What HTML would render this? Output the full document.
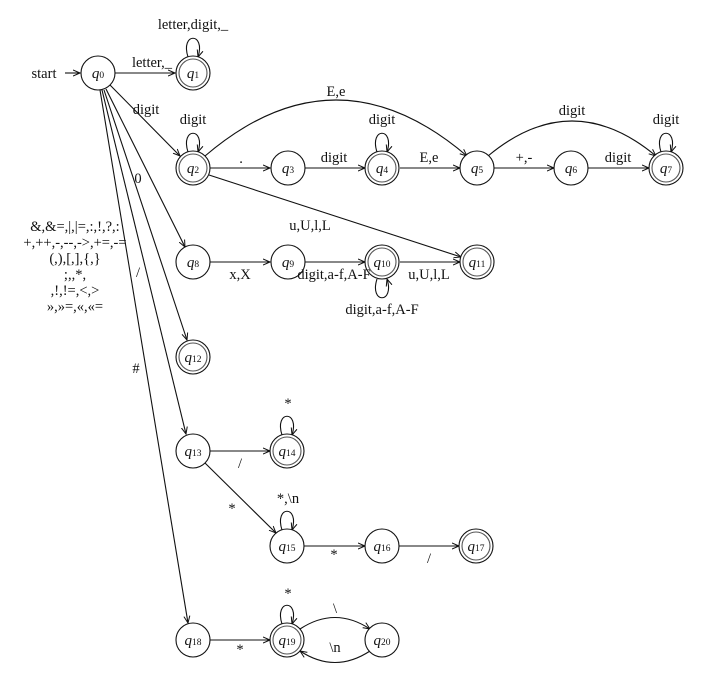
<!DOCTYPE html>
<html><head><meta charset="utf-8"><style>
html,body{margin:0;padding:0;background:#fff;}
svg{display:block;font-family:"Liberation Serif",serif;}
text{font-size:14.5px;fill:#111;}
.q{font-style:italic;font-size:15px;}
.s{font-size:9.5px;font-style:normal;}
</style></head><body>
<svg width="712" height="684" viewBox="0 0 712 684" xmlns="http://www.w3.org/2000/svg">
<defs><marker id="a" markerWidth="8" markerHeight="8" refX="7" refY="4" orient="auto" markerUnits="userSpaceOnUse"><path d="M0,1 L7,4 L0,7" fill="none" stroke="#111" stroke-width="1"/></marker></defs>
<g stroke="#111" stroke-width="1.1" fill="none" marker-end="url(#a)">
<path d="M65,73 L80,73"/>
<path d="M115,73 L175,73"/>
<path d="M110,85 L180,156"/>
<path d="M106,89 L185,247"/>
<path d="M104,90 L187,340"/>
<path d="M102,90 L186,434"/>
<path d="M100,90 L188,623"/>
<path d="M210,168 L270,168"/>
<path d="M305,168 L365,168"/>
<path d="M400,168 L460,168"/>
<path d="M494,168 L554,168"/>
<path d="M588,168 L649,168"/>
<path d="M205,156 Q336,44 467,156"/>
<path d="M488,156 Q572,86 656,156"/>
<path d="M209,175 L461,257"/>
<path d="M210,262 L270,262"/>
<path d="M305,262 L365,262"/>
<path d="M400,262 L460,262"/>
<path d="M210,451 L270,451"/>
<path d="M205,463 L276,533"/>
<path d="M304,546 L365,546"/>
<path d="M399,546 L459,546"/>
<path d="M210,640 L270,640"/>
<path d="M300,629 Q335,606 370,629"/>
<path d="M370,651 Q335,674 300,651"/>
<path d="M188,57 C180,32 206,32 198,57"/>
<path d="M188,152 C180,127 206,127 198,152"/>
<path d="M377,152 C369,127 395,127 387,152"/>
<path d="M661,152 C653,127 679,127 671,152"/>
<path d="M377,279 C369,304 395,304 387,279"/>
<path d="M282,435 C274,410 300,410 292,435"/>
<path d="M282,530 C274,505 300,505 292,530"/>
<path d="M282,624 C274,599 300,599 292,624"/>
</g>
<g stroke="#111" stroke-width="1.1" fill="#fff">
<circle cx="98" cy="73" r="17"/>
<circle cx="193" cy="73" r="17"/><circle cx="193" cy="73" r="14" fill="none" stroke="#555"/>
<circle cx="193" cy="168" r="17"/><circle cx="193" cy="168" r="14" fill="none" stroke="#555"/>
<circle cx="288" cy="168" r="17"/>
<circle cx="382" cy="168" r="17"/><circle cx="382" cy="168" r="14" fill="none" stroke="#555"/>
<circle cx="477" cy="168" r="17"/>
<circle cx="571" cy="168" r="17"/>
<circle cx="666" cy="168" r="17"/><circle cx="666" cy="168" r="14" fill="none" stroke="#555"/>
<circle cx="193" cy="262" r="17"/>
<circle cx="288" cy="262" r="17"/>
<circle cx="382" cy="262" r="17"/><circle cx="382" cy="262" r="14" fill="none" stroke="#555"/>
<circle cx="477" cy="262" r="17"/><circle cx="477" cy="262" r="14" fill="none" stroke="#555"/>
<circle cx="193" cy="357" r="17"/><circle cx="193" cy="357" r="14" fill="none" stroke="#555"/>
<circle cx="193" cy="451" r="17"/>
<circle cx="287" cy="451" r="17"/><circle cx="287" cy="451" r="14" fill="none" stroke="#555"/>
<circle cx="287" cy="546" r="17"/>
<circle cx="382" cy="546" r="17"/>
<circle cx="476" cy="546" r="17"/><circle cx="476" cy="546" r="14" fill="none" stroke="#555"/>
<circle cx="193" cy="640" r="17"/>
<circle cx="287" cy="640" r="17"/><circle cx="287" cy="640" r="14" fill="none" stroke="#555"/>
<circle cx="382" cy="640" r="17"/>
</g>
<g text-anchor="middle">
<text class="q" x="98" y="78">q<tspan class="s">0</tspan></text>
<text class="q" x="193" y="78">q<tspan class="s">1</tspan></text>
<text class="q" x="193" y="173">q<tspan class="s">2</tspan></text>
<text class="q" x="288" y="173">q<tspan class="s">3</tspan></text>
<text class="q" x="382" y="173">q<tspan class="s">4</tspan></text>
<text class="q" x="477" y="173">q<tspan class="s">5</tspan></text>
<text class="q" x="571" y="173">q<tspan class="s">6</tspan></text>
<text class="q" x="666" y="173">q<tspan class="s">7</tspan></text>
<text class="q" x="193" y="267">q<tspan class="s">8</tspan></text>
<text class="q" x="288" y="267">q<tspan class="s">9</tspan></text>
<text class="q" x="382" y="267">q<tspan class="s">10</tspan></text>
<text class="q" x="477" y="267">q<tspan class="s">11</tspan></text>
<text class="q" x="193" y="362">q<tspan class="s">12</tspan></text>
<text class="q" x="193" y="456">q<tspan class="s">13</tspan></text>
<text class="q" x="287" y="456">q<tspan class="s">14</tspan></text>
<text class="q" x="287" y="551">q<tspan class="s">15</tspan></text>
<text class="q" x="382" y="551">q<tspan class="s">16</tspan></text>
<text class="q" x="476" y="551">q<tspan class="s">17</tspan></text>
<text class="q" x="193" y="645">q<tspan class="s">18</tspan></text>
<text class="q" x="287" y="645">q<tspan class="s">19</tspan></text>
<text class="q" x="382" y="645">q<tspan class="s">20</tspan></text>
</g>
<g text-anchor="middle">
<text x="44" y="78">start</text>
<text x="193" y="29">letter,digit,_</text>
<text x="152" y="67">letter,_</text>
<text x="146" y="114">digit</text>
<text x="193" y="124">digit</text>
<text x="241" y="163">.</text>
<text x="334" y="162">digit</text>
<text x="382" y="124">digit</text>
<text x="429" y="162">E,e</text>
<text x="336" y="96">E,e</text>
<text x="524" y="162">+,-</text>
<text x="572" y="115">digit</text>
<text x="618" y="162">digit</text>
<text x="666" y="124">digit</text>
<text x="138" y="183">0</text>
<text x="310" y="230">u,U,l,L</text>
<text x="240" y="279">x,X</text>
<text x="334" y="279">digit,a-f,A-F</text>
<text x="429" y="279">u,U,l,L</text>
<text x="382" y="314">digit,a-f,A-F</text>
<text x="75" y="231">&amp;,&amp;=,|,|=,:,!,?,:</text>
<text x="75" y="247">+,++,-,--,-&gt;,+=,-=</text>
<text x="75" y="263">(,),[,],{,}</text>
<text x="75" y="279">;,,*,</text>
<text x="75" y="295">,!,!=,&lt;,&gt;</text>
<text x="75" y="311">»,»=,«,«=</text>
<text x="138" y="277">/</text>
<text x="136" y="373">#</text>
<text x="288" y="408">*</text>
<text x="240" y="468">/</text>
<text x="232" y="513">*</text>
<text x="288" y="503">*,\n</text>
<text x="334" y="559">*</text>
<text x="429" y="563">/</text>
<text x="288" y="598">*</text>
<text x="240" y="654">*</text>
<text x="335" y="613">\</text>
<text x="335" y="652">\n</text>
</g>
</svg>
</body></html>
